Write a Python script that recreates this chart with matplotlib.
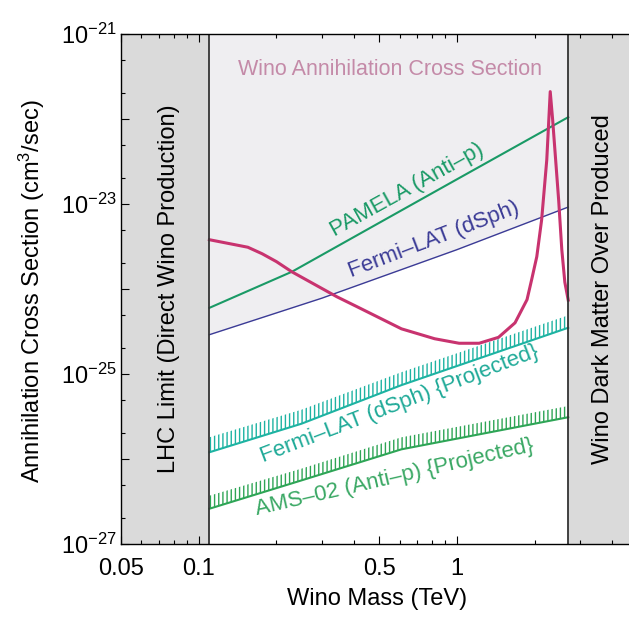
import matplotlib
matplotlib.use("Agg")
import matplotlib.pyplot as plt
from matplotlib.ticker import FixedLocator, LogLocator, NullFormatter

plt.rcParams['font.family'] = ['Liberation Sans', 'DejaVu Sans']
plt.rcParams['mathtext.default'] = 'regular'

# excluded mass ranges (TeV)
lhc_limit = 0.11
over_produced = 2.7

# wino annihilation cross section
wino_mass = [0.11, 0.155, 0.176, 0.2, 0.229, 0.343, 0.41, 0.61, 0.82, 1.02, 1.22, 1.45, 1.68,
             1.87, 1.95, 2.04, 2.13, 2.23, 2.3, 2.35, 2.48, 2.55, 2.62, 2.7]
wino_sigma = [3.8e-24, 3.1e-24, 2.6e-24, 2.1e-24, 1.6e-24, 8.1e-25, 6.2e-25, 3.4e-25, 2.6e-25,
              2.3e-25, 2.3e-25, 2.7e-25, 4.0e-25, 7.5e-25, 1.3e-24, 2.4e-24, 6.5e-24, 3.3e-23,
              2.1e-22, 9.8e-23, 1.1e-23, 2.9e-24, 1.2e-24, 7.4e-25]

# current limits
pamela_mass = [0.11, 0.23, 0.5, 1.0, 2.7]
pamela_sigma = [6.0e-25, 1.6e-24, 6.0e-24, 1.95e-23, 1.05e-22]
fermi_mass = [0.11, 0.3, 1.0, 2.7]
fermi_sigma = [2.9e-25, 7.8e-25, 2.9e-24, 9.2e-24]

# projected limits (bands)
proj_mass = [0.11, 0.25, 0.61, 2.7]
fermi_proj_lo = [1.2e-26, 2.6e-26, 7.4e-26, 3.5e-25]
fermi_proj_hi = [1.8e-26, 3.8e-26, 1.05e-25, 4.9e-25]
ams_proj_lo = [2.6e-27, 5.6e-27, 1.3e-26, 3.1e-26]
ams_proj_hi = [3.7e-27, 7.7e-27, 1.8e-26, 4.2e-26]

xticks = [0.05, 0.1, 0.5, 1, 5]
xticklabels = ['0.05', '0.1', '0.5', '1', '5']
ydecades = [1e-27, 1e-26, 1e-25, 1e-24, 1e-23, 1e-22, 1e-21]
yticklabels = ['$10^{-27}$', '', '$10^{-25}$', '', '$10^{-23}$', '', '$10^{-21}$']

fig = plt.figure(figsize=(6.29, 6.18), dpi=100)
ax = fig.add_axes([121 / 629, 74 / 618, 594 / 629, 510 / 618])
ax.set_xscale('log')
ax.set_yscale('log')
ax.set_xlim(0.05, 10)
ax.set_ylim(1e-27, 1e-21)

# excluded by existing limits (above fermi line)
ax.fill_between(fermi_mass, fermi_sigma, 1e-21, color='#efeef1', lw=0, zorder=0)

# side regions
ax.axvspan(0.05, lhc_limit, color='#dadada', lw=0, zorder=1)
ax.axvspan(over_produced, 10, color='#dadada', lw=0, zorder=1)
ax.axvline(lhc_limit, color='#333333', lw=1.3, zorder=5)
ax.axvline(over_produced, color='#333333', lw=1.3, zorder=5)

# projected bands
ax.fill_between(proj_mass, fermi_proj_lo, fermi_proj_hi, facecolor='none',
                edgecolor='#1db3a2', hatch='||||', lw=0, zorder=2)
ax.plot(proj_mass, fermi_proj_lo, color='#1db3a2', lw=1.5, zorder=2)
ax.fill_between(proj_mass, ams_proj_lo, ams_proj_hi, facecolor='none',
                edgecolor='#2ea556', hatch='||||', lw=0, zorder=2)
ax.plot(proj_mass, ams_proj_lo, color='#2ea556', lw=1.5, zorder=2)

ax.plot(pamela_mass, pamela_sigma, color='#1a9a66', lw=1.5, zorder=3)
ax.plot(fermi_mass, fermi_sigma, color='#3b3b96', lw=1.0, zorder=3)
ax.plot(wino_mass, wino_sigma, color='#c8336f', lw=2.2, zorder=4)

# labels in the plot
ax.text(0.55, 3.8e-22, 'Wino Annihilation Cross Section', color='#c48aa8',
        fontsize=15.5, ha='center', va='center', zorder=6)
ax.text(0.64, 1.45e-23, 'PAMELA (Anti–p)', color='#1a9a66', fontsize=16,
        rotation=29, ha='center', va='center', rotation_mode='anchor', zorder=6)
ax.text(0.815, 3.8e-24, 'Fermi–LAT (dSph)', color='#3b3b96', fontsize=16,
        rotation=21, ha='center', va='center', rotation_mode='anchor', zorder=6)
ax.text(0.60, 4.4e-26, 'Fermi–LAT (dSph) {Projected}', color='#1faa98', fontsize=16,
        rotation=21, ha='center', va='center', rotation_mode='anchor', zorder=6)
ax.text(0.575, 6.0e-27, 'AMS–02 (Anti–p) {Projected}', color='#3aa864', fontsize=16,
        rotation=13, ha='center', va='center', rotation_mode='anchor', zorder=6)
ax.text(0.0765, 1e-24, 'LHC Limit (Direct Wino Production)', color='black',
        fontsize=17, rotation=90, ha='center', va='center', zorder=6)
ax.text(3.68, 1e-24, 'Wino Dark Matter Over Produced', color='black',
        fontsize=17, rotation=90, ha='center', va='center', zorder=6)

# ticks
ax.xaxis.set_major_locator(FixedLocator(xticks))
ax.set_xticklabels(xticklabels)
ax.xaxis.set_minor_locator(LogLocator(base=10, subs=[2, 3, 4, 6, 7, 8, 9]))
ax.xaxis.set_minor_formatter(NullFormatter())
ax.yaxis.set_major_locator(FixedLocator(ydecades))
ax.set_yticklabels(yticklabels)
ax.yaxis.set_minor_locator(LogLocator(base=10, subs=[2, 5]))
ax.yaxis.set_minor_formatter(NullFormatter())
ax.tick_params(which='both', direction='in', top=True, right=True, width=0.8)
ax.tick_params(which='major', length=6)
ax.tick_params(which='minor', length=3)
ax.tick_params(axis='x', labelsize=17, pad=10)
ax.tick_params(axis='y', labelsize=17, pad=3)

for sp in ax.spines.values():
    sp.set_linewidth(1.0)
    sp.set_zorder(6)

ax.set_xlabel('Wino Mass (TeV)', fontsize=17)
ax.xaxis.set_label_coords(0.431, -0.086)
ax.set_ylabel('Annihilation Cross Section (cm$^3$/sec)', fontsize=17)
ax.yaxis.set_label_coords(-0.125, 0.496)

fig.savefig('out.png', dpi=100)
